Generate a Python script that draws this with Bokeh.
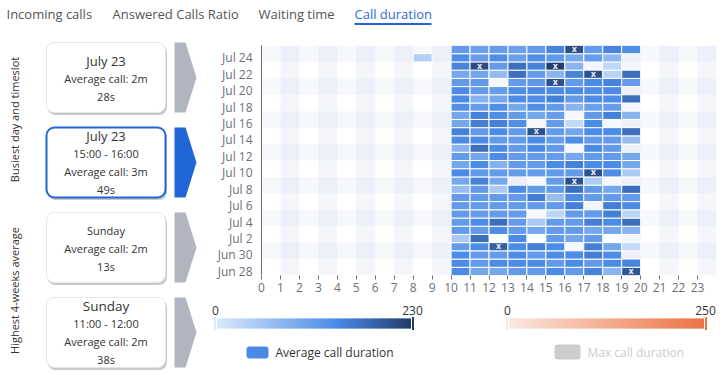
import numpy as np
from bokeh.plotting import figure
from bokeh.layouts import column, row
from bokeh.models import Range1d, FixedTicker, ColumnDataSource
from bokeh.transform import linear_cmap
from bokeh.core.properties import value
from bokeh.embed import file_html
from bokeh.resources import INLINE

FONT = "Open Sans"

# ---------------- data ----------------
tabs = ["Incoming calls", "Answered Calls Ratio", "Waiting time", "Call duration"]
active_tab = "Call duration"

days = ["Jun 28", "Jun 29", "Jun 30", "Jul 1", "Jul 2", "Jul 3", "Jul 4", "Jul 5",
        "Jul 6", "Jul 7", "Jul 8", "Jul 9", "Jul 10", "Jul 11", "Jul 12", "Jul 13",
        "Jul 14", "Jul 15", "Jul 16", "Jul 17", "Jul 18", "Jul 19", "Jul 20", "Jul 21",
        "Jul 22", "Jul 23", "Jul 24", "Jul 25"]
hour_labels = [str(h) for h in range(24)]
busy_hours = [10, 11, 12, 13, 14, 15, 16, 17, 18, 19]

# average call duration (s) per day (rows, Jun 28 first) and hour 10..19 (None = no calls)
avg_duration = [
    [140, 100, 100, 118, 118, 140, 118, 150, 80, 200],
    [140, 118, 140, 140, 140, 118, 140, 118, 140, 150],
    [140, 118, 118, 140, 118, 140, 140, 155, 140, None],
    [118, 140, 190, 140, 155, 140, None, 155, 100, 22],
    [50, 172, None, 140, None, 118, 100, 118, None, None],
    [118, 118, 140, 118, 100, 118, 118, 100, 100, 80],
    [118, 140, 172, 118, 50, 118, 118, 155, 140, 172],
    [118, 118, 118, 118, None, 32, 118, 118, 155, 32],
    [118, 118, 118, 118, 118, 118, 152, None, 155, 140],
    [118, 118, 118, 118, 155, 66, 140, 118, 118, 118],
    [66, 118, 50, 140, 118, 118, 172, 118, 100, 172],
    [100, 152, 100, None, None, 118, 205, 45, None, None],
    [140, 118, 118, 118, 118, 118, 118, 205, 140, 45],
    [100, 140, 85, 118, 118, 140, 152, 140, 140, 100],
    [118, 100, 140, 118, 118, 115, 100, 118, 118, 100],
    [80, 172, 140, 118, 140, 118, None, 140, 118, None],
    [140, 140, 118, 118, 140, 115, 138, 118, 118, 66],
    [152, 118, 140, 118, 205, 118, 100, 140, 140, 172],
    [100, 155, 152, 135, None, 118, 25, 140, None, None],
    [100, 152, 138, 118, 100, 115, None, 118, 152, 82],
    [135, 115, 135, 100, 135, 118, 80, 112, 115, None],
    [140, 85, 100, 140, 138, 152, 118, 140, 140, 172],
    [140, 118, 115, 138, 140, 140, 140, 135, 140, None],
    [118, 120, None, 118, 120, 205, 118, 140, 150, 118],
    [100, 105, 70, 172, 118, 80, 150, 205, 35, 172],
    [150, 212, 118, 172, 150, 229, 80, None, 28, None],
    [138, 115, 135, 112, 135, 120, 100, 115, 78, None],
    [118, 110, 115, 112, 118, 150, 210, 118, 148, 138],
]
# isolated early cell
extra_day, extra_hour, extra_value = "Jul 24", 8, 40
# cells flagged with an "x"
flagged = [("Jul 25", 16), ("Jul 23", 11), ("Jul 23", 15), ("Jul 22", 17), ("Jul 21", 15),
           ("Jul 15", 14), ("Jul 10", 17), ("Jul 9", 16), ("Jul 1", 12), ("Jun 28", 19)]

avg_range = [0, 230]
max_range = [0, 250]
legend_names = ["Average call duration", "Max call duration"]

card_titles = ["Busiest day and timeslot", "Highest 4-weeks average"]
cards = [
    ["July 23", "Average call: 2m", "28s"],
    ["July 23", "15:00 - 16:00", "Average call: 3m", "49s"],
    ["Sunday", "Average call: 2m", "13s"],
    ["Sunday", "11:00 - 12:00", "Average call: 2m", "38s"],
]
selected_card = 1

# ---------------- helpers ----------------
def make_palette(stops, n=256):
    pos = [s[0] for s in stops]
    cols = np.array([[int(s[1][i:i + 2], 16) for i in (1, 3, 5)] for s in stops], float)
    t = np.linspace(0, 1, n)
    out = []
    for tt in t:
        c = [int(round(np.interp(tt, pos, cols[:, k]))) for k in range(3)]
        out.append("#%02x%02x%02x" % tuple(c))
    return out

blue_pal = make_palette([(0.0, "#dbeafb"), (0.62, "#4a8ae6"), (1.0, "#213c6a")])
orange_pal = make_palette([(0.0, "#fbe8e0"), (1.0, "#ec7343")])

def base_fig(w, h):
    f = figure(width=w, height=h, x_range=Range1d(0, w), y_range=Range1d(h, 0),
               toolbar_location=None, output_backend="svg", min_border=0,
               x_axis_location=None, y_axis_location=None, outline_line_color=None,
               background_fill_color="white", border_fill_color="white")
    f.grid.visible = False
    return f

# ---------------- tabs ----------------
tp = base_fig(728, 35)
tab_x = [6, 112, 258, 354]
tp.text(x=tab_x, y=[13] * 4, text=tabs,
        text_color=["#2f6bd6" if t == active_tab else "#555555" for t in tabs],
        text_font=value(FONT), text_font_size="13px", text_baseline="middle", text_align="left")
ai = tabs.index(active_tab)
tp.segment(x0=[tab_x[ai]], y0=[23.5], x1=[431], y1=[23.5], line_color="#2166d6", line_width=2)

# ---------------- left panel ----------------
lp = base_fig(210, 340)
card_tops = [7, 92, 177, 262]
card_h = 70
cx0, cx1 = 46, 165
title_sizes = ["13px", "13px", "11px", "13.5px"]
for i, t0 in enumerate(card_tops):
    sel = i == selected_card
    lp.quad(left=[cx0 + 1], right=[cx1 + 1.5], top=[t0 + 2], bottom=[t0 + card_h + 2.5],
            fill_color="#6b6060", fill_alpha=0.35, line_color=None, border_radius=8)
    lp.quad(left=[cx0], right=[cx1], top=[t0], bottom=[t0 + card_h],
            fill_color="white", line_color="#2166d6" if sel else "#e6e6e6",
            line_width=2 if sel else 1, border_radius=8)
    lines = cards[i]
    if len(lines) == 3:
        ys = [t0 + 18, t0 + 36, t0 + 54]
    else:
        ys = [t0 + 8.5, t0 + 26, t0 + 44, t0 + 62]
    sizes = [title_sizes[i]] + ["11px"] * (len(lines) - 1)
    lp.text(x=[(cx0 + cx1) / 2] * len(lines), y=ys, text=lines,
            text_font_size=sizes, text_color="#333333", text_font=value(FONT),
            text_align="center", text_baseline="middle")
    lp.patch(x=[174, 185, 196, 185, 174], y=[t0, t0, t0 + card_h / 2, t0 + card_h, t0 + card_h],
             fill_color="#2166d6" if sel else "#b0b5bf", line_color=None)

lp.text(x=[14, 14], y=[84, 255], text=card_titles, angle=np.pi / 2,
        text_font=value(FONT), text_font_size="11px", text_color="#333333",
        text_align="center", text_baseline="middle")

# ---------------- heatmap ----------------
hp = figure(width=518, height=262, x_range=Range1d(0, 24), y_range=Range1d(0, len(days)),
            toolbar_location=None, output_backend="svg", min_border_left=51,
            min_border_right=12, min_border_top=10, min_border_bottom=22,
            outline_line_color=None, background_fill_color="white", border_fill_color="white")
hp.grid.visible = False

# split areas
odd_cols = [h for h in range(24) if h % 2 == 1]
hp.quad(left=odd_cols, right=[h + 1 for h in odd_cols], bottom=0, top=len(days),
        fill_color="#d2dbee", fill_alpha=0.25, line_color=None)
band_starts = [j * 2 for j in range(len(days) // 2) if j % 2 == 1]
hp.quad(left=0, right=24, bottom=band_starts, top=[b + 2 for b in band_starts],
        fill_color="#d2dbee", fill_alpha=0.2, line_color=None)

xs, ys, vs = [], [], []
for di, rowv in enumerate(avg_duration):
    for hi, v in enumerate(rowv):
        if v is None:
            continue
        xs.append(busy_hours[hi] + 0.5)
        ys.append(di + 0.5)
        vs.append(v)
xs.append(extra_hour + 0.5)
ys.append(days.index(extra_day) + 0.5)
vs.append(extra_value)
src = ColumnDataSource(dict(x=xs, y=ys, v=vs))
hp.rect(x="x", y="y", width=1, height=1, source=src,
        fill_color=linear_cmap("v", blue_pal, avg_range[0], avg_range[1]),
        line_color="white", line_width=1)
hp.text(x=[h + 0.5 for d, h in flagged], y=[days.index(d) + 0.5 for d, h in flagged],
        text=["x"] * len(flagged), text_color="#e8ecf4", text_font=value("DejaVu Sans"),
        text_font_size="8px", text_font_style="bold", text_align="center", text_baseline="middle")

hp.xaxis.ticker = FixedTicker(ticks=list(range(24)))
hp.xaxis.major_label_overrides = {i: hour_labels[i] for i in range(24)}
hp.xaxis.axis_line_color = None
hp.xaxis.major_tick_out = 4
hp.xaxis.major_tick_in = 0
hp.xaxis.minor_tick_line_color = None
hp.xaxis.major_tick_line_color = "#6e7079"
hp.xaxis.major_label_standoff = 3
hp.yaxis.ticker = FixedTicker(ticks=[i + 0.5 for i in range(0, len(days), 2)])
hp.yaxis.major_label_overrides = {i + 0.5: days[i] for i in range(0, len(days), 2)}
hp.yaxis.axis_line_color = "#6e7079"
hp.yaxis.major_tick_out = 0
hp.yaxis.major_tick_in = 0
hp.yaxis.minor_tick_line_color = None
hp.yaxis.major_label_standoff = 9
for ax in (hp.xaxis, hp.yaxis):
    ax.major_label_text_font = FONT
    ax.major_label_text_font_size = "12px"
    ax.major_label_text_color = "#6e7079"

# ---------------- legend / visual maps ----------------
gp = base_fig(518, 78)
bars = [(5, 202, blue_pal, avg_range), (297, 495, orange_pal, max_range)]
nseg = 100
for x0, x1, pal, rng in bars:
    edges = np.linspace(x0, x1, nseg + 1)
    cols = [pal[int(round(k / (nseg - 1) * (len(pal) - 1)))] for k in range(nseg)]
    gp.quad(left=edges[:-1], right=edges[1:] + 1.0, top=21, bottom=31, fill_color=cols,
            line_color=None)
    gp.quad(left=[x0 - 2, x1 - 1], right=[x0 + 1, x1 + 2], top=19, bottom=33,
            fill_color=[pal[0], pal[-1]], line_color="white", line_width=1)
    gp.text(x=[x0, x1], y=[13, 13], text=[str(rng[0]), str(rng[1])], text_font=value(FONT),
            text_font_size="12px", text_color="#333333", text_align="center", text_baseline="middle")

gp.quad(left=[36, 344], right=[58, 370], top=[49, 47], bottom=[61, 62],
        fill_color=["#4a8ae6", "#cccccc"], line_color=None, border_radius=3)
gp.text(x=[65, 377], y=[55, 55], text=legend_names, text_color=["#333333", "#cccccc"],
        text_font=value(FONT), text_font_size="12px", text_align="left", text_baseline="middle")

layout = column(tp, row(lp, column(row(hp), row(gp))))
open("out.html", "w").write(file_html(layout, INLINE))
